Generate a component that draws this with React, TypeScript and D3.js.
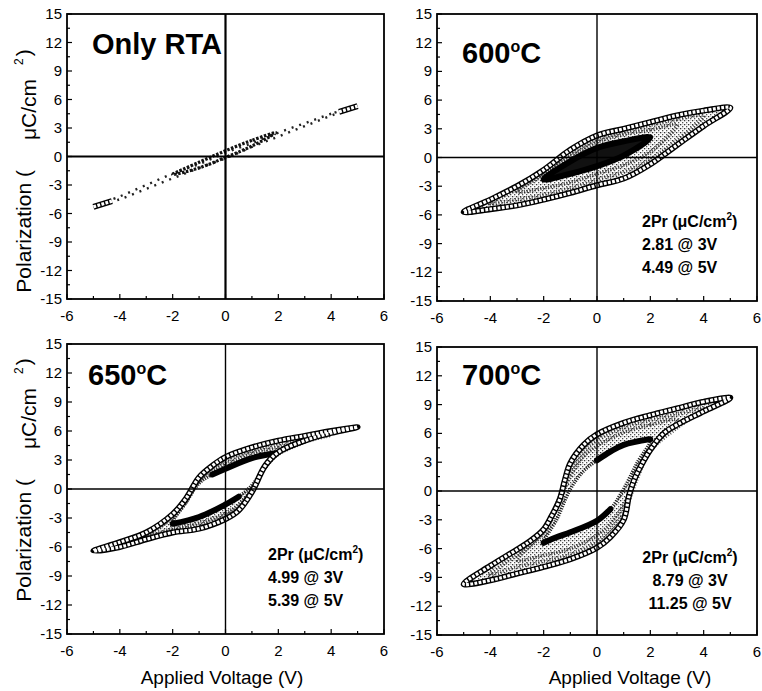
import React from "react";
import * as d3 from "d3";

type Pt = [number, number];

const xTicks = [-6, -4, -2, 0, 2, 4, 6];
const yTicks = [-15, -12, -9, -6, -3, 0, 3, 6, 9, 12, 15];

// Only RTA: nearly linear, sparse markers
const rtaLoop5V: Pt[] = [
  [5, 5.3], [4, 4.5], [3, 3.5], [2, 2.5], [1, 1.4], [0, 0.4], [-1, -0.8], [-2, -1.8], [-3, -3.0], [-4, -4.2],
  [-5, -5.3], [-4, -4.5], [-3, -3.4], [-2, -2.3], [-1, -1.2], [0, -0.2], [1, 1.0], [2, 2.1], [3, 3.2], [4, 4.3],
];
const rtaLoop2V: Pt[] = [
  [1.9, 2.5], [1, 1.7], [0, 0.6], [-1, -0.6], [-2, -1.9], [-1, -1.2], [0, -0.1], [1, 1.1],
];
const rtaTipPos: Pt[] = [[4.3, 4.7], [5, 5.3]];
const rtaTipNeg: Pt[] = [[-5, -5.3], [-4.3, -4.7]];

// 600 C
const loop600_5V: Pt[] = [
  [5, 5.2], [4, 4.9], [3, 4.4], [2, 3.7], [1, 3.0], [0, 2.3], [-1, 0.8], [-2, -1.3], [-3, -3.0], [-4, -4.4],
  [-5, -5.7], [-4, -5.4], [-3, -5.0], [-2, -4.4], [-1, -3.7], [0, -2.9], [1, -2.2], [2, -0.7], [3, 1.3], [4, 3.3],
];
const loop600_4V: Pt[] = [
  [4, 4.4], [3, 4.0], [2, 3.4], [1, 2.7], [0, 1.9], [-1, 0.4], [-2, -1.6], [-3, -3.3],
  [-4, -4.8], [-3, -4.4], [-2, -3.9], [-1, -3.2], [0, -2.3], [1, -1.5], [2, -0.2], [3, 1.8],
];
const loop600_3V: Pt[] = [
  [3, 3.4], [2, 2.9], [1, 2.4], [0, 1.6], [-1, 0.1], [-2, -1.8],
  [-3, -3.6], [-2, -3.2], [-1, -2.6], [0, -1.7], [1, -0.8], [2, 0.6],
];
const loop600_2V: Pt[] = [
  [2, 2.1], [1, 1.7], [0, 1.0], [-1, -0.4], [-2, -2.3], [-1, -1.7], [0, -0.9], [1, 0.2],
];

// 650 C
const loop650_5V: Pt[] = [
  [5, 6.4], [4, 6.0], [3, 5.5], [2, 5.0], [1, 4.3], [0, 3.3], [-0.5, 2.4], [-1, 1.2], [-1.5, -1.0], [-2, -2.6],
  [-3, -4.5], [-4, -5.5], [-5, -6.4], [-4, -6.0], [-3, -5.2], [-2, -4.5], [-1, -4.1], [0, -3.1], [0.5, -2.2],
  [1, -0.3], [1.5, 2.4], [2, 3.8], [3, 5.0], [4, 5.8],
];
const loop650_4V: Pt[] = [
  [4, 5.6], [3, 5.2], [2, 4.7], [1, 4.0], [0, 3.0], [-0.5, 2.2], [-1, 1.0], [-1.5, -1.2], [-2, -2.8], [-3, -4.7],
  [-4, -5.7], [-3, -5.0], [-2, -4.3], [-1, -3.8], [0, -2.8], [0.5, -1.9], [1, -0.1], [1.5, 2.3], [2, 3.7], [3, 4.9],
];
const loop650_3V: Pt[] = [
  [3, 4.9], [2, 4.3], [1, 3.7], [0, 2.6], [-0.5, 2.0], [-1, 0.8], [-1.5, -1.4], [-2, -3.0],
  [-3, -4.9], [-2, -4.1], [-1, -3.5], [0, -2.5], [0.5, -1.6], [1, 0.0], [1.5, 2.2], [2, 3.6],
];
const loop650_2V: Pt[] = [
  [1.9, 3.7], [1, 3.2], [0, 2.1], [-0.5, 1.5], [-1, 0.6], [-1.5, -1.4],
  [-2, -3.6], [-1, -2.9], [0, -1.6], [0.5, -0.8], [1, 0.4], [1.5, 2.3],
];

// 700 C
const loop700_5V: Pt[] = [
  [5, 9.7], [4, 9.3], [3, 8.6], [2, 7.9], [1, 7.1], [0, 5.9], [-0.5, 4.8], [-1, 2.9], [-1.2, 1.2], [-1.4, -0.9],
  [-1.7, -2.6], [-2, -4.0], [-2.5, -5.2], [-3, -6.1], [-4, -7.8], [-5, -9.7], [-4, -9.3], [-3, -8.6], [-2, -7.9],
  [-1, -7.1], [0, -5.9], [0.5, -4.8], [1, -3.0], [1.2, -0.5], [1.4, 1.2], [1.7, 2.9], [2, 4.3], [2.5, 6.0],
  [3, 6.9], [4, 8.3],
];
const loop700_4V: Pt[] = [
  [4, 8.6], [3, 8.0], [2, 7.4], [1, 6.6], [0, 5.3], [-0.5, 4.2], [-1, 2.2], [-1.5, -1.3], [-2, -4.2], [-3, -6.6],
  [-4, -8.7], [-3, -7.9], [-2, -7.3], [-1, -6.6], [0, -5.3], [0.5, -4.1], [1, -2.2], [1.5, 1.3], [2, 4.2], [3, 6.6],
];
const loop700_3V: Pt[] = [
  [3, 7.4], [2, 6.9], [1, 6.1], [0, 4.7], [-0.5, 3.6], [-1, 1.5], [-1.5, -1.8], [-2, -4.4],
  [-3, -7.2], [-2, -6.7], [-1, -6.0], [0, -4.6], [0.5, -3.4], [1, -1.4], [1.5, 1.8], [2, 4.4],
];
const loop700_2V: Pt[] = [
  [2, 5.4], [1, 4.8], [0.5, 4.1], [0, 3.2], [-0.5, 2.1], [-1, 0.2], [-1.5, -2.9],
  [-2, -5.4], [-1.5, -4.8], [-1, -4.3], [0, -3.1], [0.5, -1.9], [1, 0.2], [1.5, 2.9],
];

const notes600 = ["2.81 @ 3V", "4.49 @ 5V"];
const notes650 = ["4.99 @ 3V", "5.39 @ 5V"];
const notes700 = ["8.79 @ 3V", "11.25 @ 5V"];

const SANS = "'Liberation Sans', Arial, Helvetica, sans-serif";

type Scale = d3.ScaleLinear<number, number>;

type PanelProps = {
  left: number;
  right: number;
  top: number;
  bottom: number;
  heavyZero?: boolean;
  children: (x: Scale, y: Scale) => React.ReactNode;
};

const Panel = ({ left, right, top, bottom, heavyZero, children }: PanelProps) => {
  const x = d3.scaleLinear().domain([-6, 6]).range([left, right]);
  const y = d3.scaleLinear().domain([-15, 15]).range([bottom, top]);
  const minorX = d3.range(-6, 7, 1);
  const minorY = d3.range(-15, 15.1, 1.5);
  const zw = heavyZero ? 2.2 : 1.4;
  return (
    <g>
      {children(x, y)}
      <line x1={x(0)} x2={x(0)} y1={top} y2={bottom} stroke="#000" strokeWidth={zw} />
      <line x1={left} x2={right} y1={y(0)} y2={y(0)} stroke="#000" strokeWidth={zw} />
      <rect x={left} y={top} width={right - left} height={bottom - top} fill="none" stroke="#000" strokeWidth={1.8} />
      {minorX.map((v) => (
        <line key={"tx" + v} x1={x(v)} x2={x(v)} y1={bottom} y2={bottom - (v % 2 === 0 ? 5 : 3)} stroke="#000" strokeWidth={1.2} />
      ))}
      {minorY.map((v) => (
        <line key={"ty" + v} x1={left} x2={left + (v % 3 === 0 ? 5 : 3)} y1={y(v)} y2={y(v)} stroke="#000" strokeWidth={1.2} />
      ))}
      {xTicks.map((v) => (
        <text key={"lx" + v} x={x(v)} y={bottom + 22} textAnchor="middle" fontFamily={SANS} fontSize={15}>
          {v}
        </text>
      ))}
      {yTicks.map((v) => (
        <text key={"ly" + v} x={left - 5} y={y(v) + 5} textAnchor="end" fontFamily={SANS} fontSize={15}>
          {v}
        </text>
      ))}
    </g>
  );
};

const closed = (x: Scale, y: Scale) =>
  d3
    .line<Pt>()
    .x((d) => x(d[0]))
    .y((d) => y(d[1]))
    .curve(d3.curveCatmullRomClosed.alpha(0.5));

const open = (x: Scale, y: Scale) =>
  d3
    .line<Pt>()
    .x((d) => x(d[0]))
    .y((d) => y(d[1]))
    .curve(d3.curveCatmullRom.alpha(0.5));

const Rings = ({ d }: { d: string }) => (
  <g>
    <path d={d} fill="none" stroke="#000" strokeWidth={6} />
    <path d={d} fill="none" stroke="#fff" strokeWidth={3.2} strokeDasharray="2.8 1.4" />
  </g>
);

const Hysteresis = ({
  x,
  y,
  outer,
  mid4,
  mid3,
  inner,
  darkParts,
  innerFill,
}: {
  x: Scale;
  y: Scale;
  outer: Pt[];
  mid4: Pt[];
  mid3: Pt[];
  inner: Pt[];
  darkParts?: [number, number][];
  innerFill: string;
}) => {
  const line = closed(x, y);
  const seg = open(x, y);
  return (
    <g>
      <path d={line(outer) || ""} fill="url(#speckle)" stroke="none" />
      <path d={line(inner) || ""} fill={innerFill} stroke="none" />
      <path d={line(mid4) || ""} fill="none" stroke="#333" strokeWidth={4} strokeDasharray="1 1.8" opacity={0.85} />
      <path d={line(mid3) || ""} fill="none" stroke="#333" strokeWidth={3.5} strokeDasharray="1.2 1.5" opacity={0.85} />
      {darkParts ? (
        <g>
          <path d={line(inner) || ""} fill="none" stroke="#222" strokeWidth={3.5} strokeDasharray="1.2 1.2" />
          {darkParts.map(([a, b]) => (
            <path key={a} d={seg(inner.slice(a, b)) || ""} fill="none" stroke="#000" strokeWidth={6} strokeLinecap="round" />
          ))}
        </g>
      ) : (
        <path d={line(inner) || ""} fill="none" stroke="#000" strokeWidth={6} />
      )}
      <Rings d={line(outer) || ""} />
    </g>
  );
};

const Notes = ({ x, y0, lines, anchor }: { x: number; y0: number; lines: string[]; anchor: "start" | "middle" }) => (
  <g fontFamily={SANS} fontWeight="bold" fontSize={16}>
    <text x={x} y={y0} textAnchor={anchor}>
      2Pr (μC/cm
      <tspan dy={-7} fontSize={10}>
        2
      </tspan>
      <tspan dy={7}>)</tspan>
    </text>
    {lines.map((t, i) => (
      <text key={t} x={x} y={y0 + 23 * (i + 1)} textAnchor={anchor}>
        {t}
      </text>
    ))}
  </g>
);

const TempTitle = ({ x, y, t }: { x: number; y: number; t: string }) => (
  <text x={x} y={y} fontFamily={SANS} fontWeight="bold" fontSize={29}>
    {t}
    <tspan dy={-11} fontSize={16}>
      o
    </tspan>
    <tspan dy={11}>C</tspan>
  </text>
);

const YTitle = ({ cx, cy }: { cx: number; cy: number }) => (
  <text transform={`translate(${cx},${cy}) rotate(-90)`} textAnchor="middle" fontFamily={SANS} fontSize={21}>
    Polarization (
    <tspan dx={30} dy={5}>
      μC/cm
    </tspan>
    <tspan dx={14} dy={-13} fontSize={12}>
      2
    </tspan>
    <tspan dx={2} dy={8}>
      )
    </tspan>
  </text>
);

export default function App() {
  return (
    <svg width={762} height={691} style={{ position: "absolute", left: 0, top: 0, background: "#fff" }}>
      <defs>
        <pattern id="speckle" width={4} height={4} patternUnits="userSpaceOnUse">
          <rect x={0} y={0} width={1.3} height={1.3} fill="#333" />
          <rect x={2} y={2} width={1.3} height={1.3} fill="#555" />
          <rect x={2.5} y={0.3} width={0.8} height={0.8} fill="#888" />
        </pattern>
      </defs>
      <rect x={0} y={0} width={762} height={691} fill="#fff" />

      <Panel left={67} right={384} top={14} bottom={299} heavyZero>
        {(x, y) => {
          const line = closed(x, y);
          const seg = open(x, y);
          return (
            <g>
              <path d={line(rtaLoop5V) || ""} fill="none" stroke="#222" strokeWidth={2.4} strokeDasharray="2 6" />
              <path d={line(rtaLoop2V) || ""} fill="none" stroke="#111" strokeWidth={3.2} strokeDasharray="2.5 1.5" />
              <Rings d={seg(rtaTipPos) || ""} />
              <Rings d={seg(rtaTipNeg) || ""} />
            </g>
          );
        }}
      </Panel>
      <Panel left={437} right={757} top={14} bottom={301}>
        {(x, y) => (
          <Hysteresis x={x} y={y} outer={loop600_5V} mid4={loop600_4V} mid3={loop600_3V} inner={loop600_2V} innerFill="#111" />
        )}
      </Panel>
      <Panel left={67} right={384} top={344} bottom={634}>
        {(x, y) => (
          <Hysteresis
            x={x}
            y={y}
            outer={loop650_5V}
            mid4={loop650_4V}
            mid3={loop650_3V}
            inner={loop650_2V}
            darkParts={[[0, 4], [6, 10]]}
            innerFill="#fff"
          />
        )}
      </Panel>
      <Panel left={437} right={757} top={347} bottom={635}>
        {(x, y) => (
          <Hysteresis
            x={x}
            y={y}
            outer={loop700_5V}
            mid4={loop700_4V}
            mid3={loop700_3V}
            inner={loop700_2V}
            darkParts={[[0, 4], [7, 12]]}
            innerFill="#fff"
          />
        )}
      </Panel>

      <text x={92} y={54} fontFamily={SANS} fontWeight="bold" fontSize={29}>
        Only RTA
      </text>
      <TempTitle x={462} y={63} t="600" />
      <TempTitle x={88} y={385} t="650" />
      <TempTitle x={462} y={385} t="700" />

      <Notes x={642} y0={227} lines={notes600} anchor="start" />
      <Notes x={268} y0={560} lines={notes650} anchor="start" />
      <Notes x={690} y0={563} lines={notes700} anchor="middle" />

      <YTitle cx={31} cy={171} />
      <YTitle cx={31} cy={480} />

      <text x={222} y={684} textAnchor="middle" fontFamily={SANS} fontSize={19}>
        Applied Voltage (V)
      </text>
      <text x={630} y={684} textAnchor="middle" fontFamily={SANS} fontSize={19}>
        Applied Voltage (V)
      </text>
    </svg>
  );
}
